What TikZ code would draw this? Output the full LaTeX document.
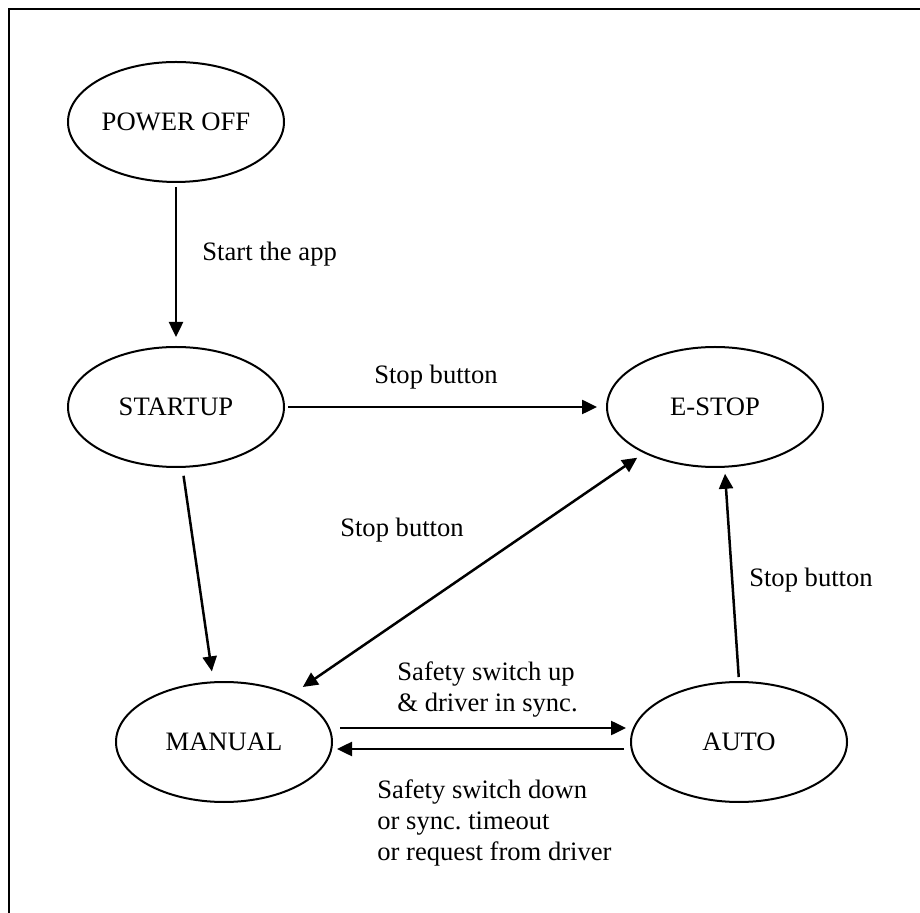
\documentclass[tikz,border=0pt]{standalone}
\usepackage{fontspec}
\setmainfont{Liberation Serif}
\usetikzlibrary{shapes.geometric, arrows.meta, positioning}
\frenchspacing

\begin{document}
\begin{tikzpicture}[
    x=0.5pt, y=-0.5pt,
    font=\fontsize{13.3}{15.5}\selectfont,
    state/.style={
        ellipse,
        draw=black,
        line width=1pt,
        minimum width=108pt,
        minimum height=60pt,
        inner sep=0pt
    },
    tag/.style={inner sep=0pt, align=left, anchor=west},
    line/.style={draw=black, -{Triangle[length=7.5pt, width=7pt]}, line width=1.25pt},
    dline/.style={line, {Triangle[length=7.5pt, width=7pt]}-{Triangle[length=7.5pt, width=7pt]}}
]
    \useasboundingbox (0,0) rectangle (920,913);
    \draw [line width=1pt] (9,913) -- (9,9.5) -- (920,9.5);

    \node [state] (poweroff) at (176,122) {POWER OFF};
    \node [state, below of=poweroff, node distance=142.5pt] (startup) {STARTUP};
    \node [state, right of=startup, node distance=269.5pt] (estop) {E-STOP};
    \node [state] (manual) at (224,742) {MANUAL};
    \node [state, right of=manual, node distance=257.5pt] (auto) {AUTO};

    \node [tag] (startlbl) at (202,254) {Start the app};
    \node (stoplbl1) at (436,377) {Stop button};
    \node (stoplbl2) at (402,530) {Stop button};
    \node (stoplbl3) at (811,580) {Stop button};
    \node [tag] (uplbl) at (397,690) {Safety switch up\\\& driver in sync.};
    \node [tag] (downlbl) at (377,823) {Safety switch down\\or sync. timeout\\or request from driver};

    \path [line, shorten <=2pt, shorten >=4.5pt] (poweroff) -- (startup);
    \path [line, shorten <=1.5pt, shorten >=4.5pt] (startup) -- (estop);
    \path [line, shorten <=4pt, shorten >=5pt] (startup.-84) -- (manual.100);
    \path [dline, shorten <=6.5pt, shorten >=4pt] (manual.35) -- (estop.-147);
    \path [line, shorten <=3.5pt, shorten >=2pt] ([yshift=7pt]manual.east) -- ([yshift=7pt]auto.west);
    \path [line, shorten <=3pt, shorten >=2pt] ([yshift=-3.5pt]auto.west) -- ([yshift=-3.5pt]manual.east);
    \path [line, shorten <=2pt, shorten >=3pt] (auto.north) -- (estop.-81);
\end{tikzpicture}
\end{document}
